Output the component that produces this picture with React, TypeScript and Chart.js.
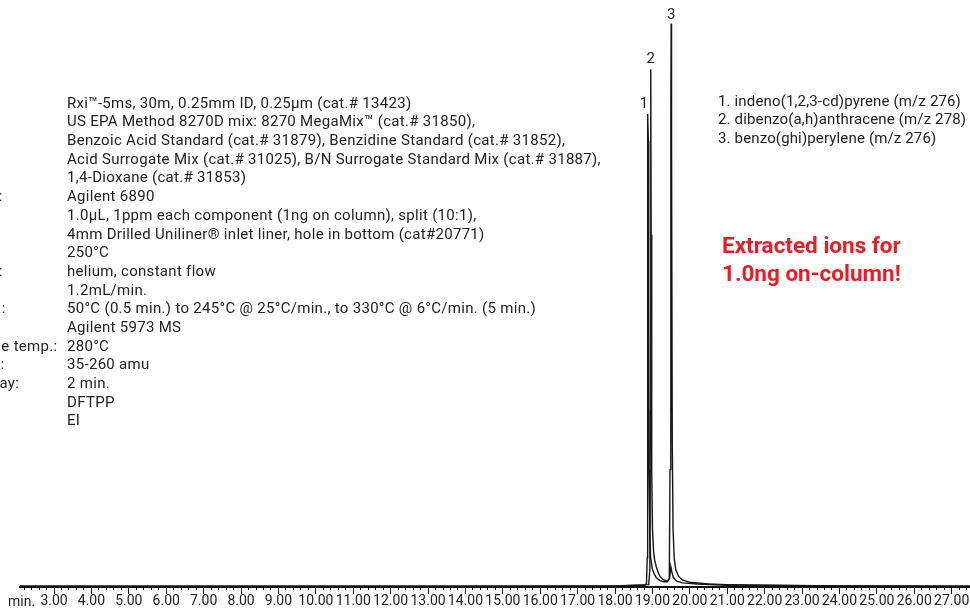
import { useEffect, useRef } from 'react';
import { Chart, registerables } from 'chart.js';

Chart.register(...registerables);

// ---- axis ----
const xMin = 2.09;
const xMax = 27.49;
const xTickValues = [3, 4, 5, 6, 7, 8, 9, 10, 11, 12, 13, 14, 15, 16, 17, 18, 19, 20, 21, 22, 23, 24, 25, 26, 27];
const xTickLabels = xTickValues.map((v) => v.toFixed(2));
const minorStep = 0.2;

// ---- extracted ion chromatograms (time in min, abundance %) ----
const trace276Time = [2.09, 6.0, 10.0, 14.0, 18.0, 18.8, 18.84, 18.86, 18.865, 18.87, 18.88, 18.89, 18.9, 18.91, 18.93, 18.95, 19.0, 19.05, 19.1, 19.2, 19.3, 19.4, 19.45, 19.47, 19.49, 19.5, 19.51, 19.53, 19.55, 19.58, 19.62, 19.7, 19.8, 20.0, 20.5, 21.0, 24.0, 27.49];
const trace276Value = [0.15, 0.15, 0.15, 0.15, 0.2, 0.3, 0.6, 5, 60, 78, 80.6, 76, 50, 20, 9, 5, 3, 2.2, 1.6, 1.1, 0.9, 0.9, 1.5, 20, 80, 96.0, 75, 25, 10, 5, 3, 1.8, 1.2, 0.8, 0.5, 0.4, 0.2, 0.15];

const trace278Time = [2.09, 6.0, 10.0, 14.0, 18.0, 18.9, 18.93, 18.945, 18.955, 18.965, 18.98, 19.0, 19.03, 19.06, 19.1, 19.15, 19.2, 19.3, 19.4, 19.46, 19.49, 19.52, 19.56, 19.65, 19.8, 20.2, 21.0, 24.0, 27.49];
const trace278Value = [0.15, 0.15, 0.15, 0.15, 0.2, 0.4, 3, 30, 88.2, 60, 20, 10, 6, 4.5, 3.5, 2.5, 1.8, 1.2, 1.0, 1.5, 3.5, 2.5, 1.6, 1.0, 0.7, 0.5, 0.3, 0.2, 0.15];

// ---- peak annotations ----
const peakNumbers = ['1', '2', '3'];
const peakTimes = [18.88, 18.955, 19.5];
const peakHeights = [80.6, 88.2, 96.0];
const peakLabelShift = [-4, 0, 0];
const peakLabelGap = [6, 6, 4];

// ---- text ----
const compoundLegend = [
  '1. indeno(1,2,3-cd)pyrene (m/z 276)',
  '2. dibenzo(a,h)anthracene (m/z 278)',
  '3. benzo(ghi)perylene (m/z 276)',
];
const conditionLabels = [
  'Column:', 'Sample:', '', '', '', 'Instrument:', 'Inj.:', 'Liner:', 'Inj. temp.:', 'Carrier gas:',
  'Flow rate:', 'Oven temp.:', 'Det.:', 'Transfer line temp.:', 'Scan range:', 'Solvent delay:', 'Tune:', 'Ionization:',
];
const conditionValues = [
  'Rxi\u2122-5ms, 30m, 0.25mm ID, 0.25\u03bcm (cat.# 13423)',
  'US EPA Method 8270D mix: 8270 MegaMix\u2122 (cat.# 31850),',
  'Benzoic Acid Standard (cat.# 31879), Benzidine Standard (cat.# 31852),',
  'Acid Surrogate Mix (cat.# 31025), B/N Surrogate Standard Mix (cat.# 31887),',
  '1,4-Dioxane (cat.# 31853)',
  'Agilent 6890',
  '1.0\u03bcL, 1ppm each component (1ng on column), split (10:1),',
  '4mm Drilled Uniliner\u00ae inlet liner, hole in bottom (cat#20771)',
  '250\u00b0C',
  'helium, constant flow',
  '1.2mL/min.',
  '50\u00b0C (0.5 min.) to 245\u00b0C @ 25\u00b0C/min., to 330\u00b0C @ 6\u00b0C/min. (5 min.)',
  'Agilent 5973 MS',
  '280\u00b0C',
  '35-260 amu',
  '2 min.',
  'DFTPP',
  'EI',
];
const noteLines = ['Extracted ions for', '1.0ng on-column!'];

const FONT = 'Roboto, "Noto Sans", sans-serif';

const peakLabelPlugin = {
  id: 'peakLabels',
  afterDatasetsDraw(chart: any) {
    const { ctx, scales } = chart;
    ctx.save();
    ctx.fillStyle = '#222';
    ctx.font = `15px ${FONT}`;
    ctx.textAlign = 'center';
    ctx.textBaseline = 'alphabetic';
    peakNumbers.forEach((n, i) => {
      const x = scales.x.getPixelForValue(peakTimes[i]) + peakLabelShift[i];
      const y = scales.y.getPixelForValue(peakHeights[i]) - peakLabelGap[i];
      ctx.fillText(n, x, y);
    });
    ctx.restore();
  },
};

export default function App() {
  const ref = useRef<HTMLCanvasElement | null>(null);

  useEffect(() => {
    if (!ref.current) return;
    const minorTicks: { value: number }[] = [];
    for (let v = Math.ceil(xMin / minorStep) * minorStep; v <= xMax + 1e-9; v += minorStep) {
      minorTicks.push({ value: Math.round(v * 10) / 10 });
    }
    const chart = new Chart(ref.current, {
      type: 'line',
      data: {
        datasets: [
          {
            label: 'm/z 276',
            data: trace276Time.map((t, i) => ({ x: t, y: trace276Value[i] })),
            borderColor: '#151515',
            borderWidth: 1.4,
            pointRadius: 0,
            tension: 0,
            xAxisID: 'x',
            yAxisID: 'y',
          },
          {
            label: 'm/z 278',
            data: trace278Time.map((t, i) => ({ x: t, y: trace278Value[i] })),
            borderColor: '#151515',
            borderWidth: 1.4,
            pointRadius: 0,
            tension: 0,
            xAxisID: 'x',
            yAxisID: 'y',
          },
        ],
      },
      options: {
        responsive: false,
        animation: false,
        layout: { padding: { left: 20, right: 0, top: 0, bottom: 0 } },
        plugins: { legend: { display: false }, tooltip: { enabled: false } },
        scales: {
          xMinor: {
            type: 'linear',
            position: 'bottom',
            min: xMin,
            max: xMax,
            weight: 0,
            afterBuildTicks: (axis: any) => {
              axis.ticks = minorTicks.map((t) => ({ ...t }));
            },
            ticks: { display: false },
            grid: { drawOnChartArea: false, drawTicks: true, tickLength: 3, color: '#111', lineWidth: 1 },
            border: { display: true, color: '#111', width: 2 },
          },
          x: {
            type: 'linear',
            position: 'bottom',
            min: xMin,
            max: xMax,
            weight: 1,
            afterBuildTicks: (axis: any) => {
              axis.ticks = xTickValues.map((v) => ({ value: v }));
            },
            ticks: {
              color: '#222',
              padding: 0,
              maxRotation: 0,
              autoSkip: false,
              font: { family: FONT, size: 14, lineHeight: 1 },
              callback: (v: any) => {
                const i = xTickValues.indexOf(Number(v));
                return i >= 0 ? xTickLabels[i] : '';
              },
            },
            grid: { drawOnChartArea: false, drawTicks: true, tickLength: 4, color: '#111', lineWidth: 1 },
            border: { display: false },
          },
          y: {
            type: 'linear',
            display: false,
            min: 0,
            max: 100,
          },
        },
      },
      plugins: [peakLabelPlugin],
    });
    return () => chart.destroy();
  }, []);

  const textStyle: any = { fontFamily: FONT, fontSize: 15, letterSpacing: '0.3px', color: '#222', lineHeight: '18.7px', whiteSpace: 'nowrap' };

  return (
    <div style={{ position: 'fixed', left: 0, top: 0, width: 970, height: 608, overflow: 'hidden', background: '#fff' }}>
      <canvas ref={ref} width={970} height={608} style={{ position: 'absolute', left: 0, top: 0 }} />
      <div style={{ ...textStyle, position: 'absolute', left: 0, top: 93.7, width: 640 }}>
        {conditionValues.map((v, i) => (
          <div key={i} style={{ position: 'relative', height: 18.7 }}>
            <span style={{ position: 'absolute', left: -77 }}>{conditionLabels[i]}</span>
            <span style={{ position: 'absolute', left: 67 }}>{v}</span>
          </div>
        ))}
      </div>
      <div style={{ ...textStyle, position: 'absolute', left: 718, top: 91.6, letterSpacing: '0.15px' }}>
        {compoundLegend.map((l, i) => (
          <div key={i}>{l}</div>
        ))}
      </div>
      <div style={{ position: 'absolute', left: 722, top: 231, fontFamily: FONT, fontWeight: 700, fontSize: 22.5, lineHeight: '28px', color: '#ed1c24', whiteSpace: 'nowrap' }}>
        {noteLines.map((l, i) => (
          <div key={i}>{l}</div>
        ))}
      </div>
      <div style={{ ...textStyle, position: 'absolute', left: 8, top: 593, fontSize: 14, lineHeight: '16px', letterSpacing: 0 }}>min.</div>
    </div>
  );
}
